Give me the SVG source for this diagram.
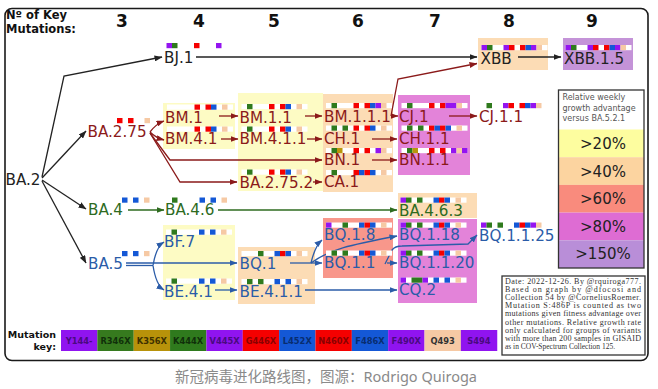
<svg xmlns="http://www.w3.org/2000/svg" width="658" height="389" viewBox="0 0 658 389">
<defs>
<style>
.n{font-family:"DejaVu Sans",Verdana,sans-serif;font-size:15.2px}
.k{fill:#222}.dr{fill:#8b1a1a}.gn{fill:#2e6b1f}.bu{fill:#2b5ca8}
.w{fill:#fff}.P{fill:#9414f0}.G{fill:#2f7a1d}.O{fill:#b8960a}.R{fill:#f50000}.B{fill:#1458d6}.T{fill:#f6c9a4}
.yb{fill:#fdfbc4}.tb{fill:#fcdcb5}.sb{fill:#f8978b}.mb{fill:#e383d9}.pb{fill:#c493d8}
.c{fill:none;stroke-width:1.3}
.ck{stroke:#222}.cr{stroke:#8b1a1a}.cg{stroke:#2e6b1f}.cb{stroke:#2b5ca8}
.hd{font-family:"DejaVu Sans",Verdana,sans-serif;font-weight:bold;fill:#111}
.note{font-family:"Liberation Serif","Times New Roman",serif;font-size:8.1px;fill:#333}
.kl{font-family:"DejaVu Sans",Verdana,sans-serif;font-weight:bold;font-size:8.3px;text-anchor:middle}
.lg{font-family:"DejaVu Sans",Verdana,sans-serif;font-size:15px;fill:#222;text-anchor:middle}
.lt{font-family:"DejaVu Sans",Verdana,sans-serif;font-size:8px;fill:#555}
</style>
<marker id="mk" viewBox="0 0 8 6" refX="7.5" refY="3" markerWidth="8" markerHeight="6" markerUnits="userSpaceOnUse" orient="auto"><path d="M0,0 L8,3 L0,6 z" fill="#222"/></marker>
<marker id="mr" viewBox="0 0 8 6" refX="7.5" refY="3" markerWidth="8" markerHeight="6" markerUnits="userSpaceOnUse" orient="auto"><path d="M0,0 L8,3 L0,6 z" fill="#8b1a1a"/></marker>
<marker id="mg" viewBox="0 0 8 6" refX="7.5" refY="3" markerWidth="8" markerHeight="6" markerUnits="userSpaceOnUse" orient="auto"><path d="M0,0 L8,3 L0,6 z" fill="#2e6b1f"/></marker>
<marker id="mb" viewBox="0 0 8 6" refX="7.5" refY="3" markerWidth="8" markerHeight="6" markerUnits="userSpaceOnUse" orient="auto"><path d="M0,0 L8,3 L0,6 z" fill="#2b5ca8"/></marker>
</defs>
<rect width="658" height="389" fill="#fff"/>
<rect id="frame" x="5" y="8.5" width="643" height="352" rx="7" fill="#fff" stroke="#1a1a1a" stroke-width="1.6"/>

<g id="header">
<text class="hd" font-size="11.5" x="6" y="19">Nº of Key</text>
<text class="hd" font-size="11.5" x="6" y="32.5">Mutations:</text>
<g font-size="17" text-anchor="middle">
<text class="hd" x="122" y="27">3</text>
<text class="hd" x="199" y="27">4</text>
<text class="hd" x="274" y="27">5</text>
<text class="hd" x="358" y="27">6</text>
<text class="hd" x="435" y="27">7</text>
<text class="hd" x="509" y="27">8</text>
<text class="hd" x="592" y="27">9</text>
</g>
</g>

<g id="boxes">
<rect class="yb" x="163" y="103" width="72" height="46"/>
<rect class="yb" x="238" y="93" width="85" height="98"/>
<rect class="tb" x="323" y="94" width="70" height="98"/>
<rect class="mb" x="398" y="95" width="72" height="80"/>
<rect class="tb" x="478" y="38" width="70" height="32"/>
<rect class="pb" x="563" y="38" width="70" height="32"/>
<rect class="tb" x="398" y="193" width="79" height="25"/>
<rect class="yb" x="163" y="225" width="72" height="75"/>
<rect class="tb" x="238" y="247" width="77" height="57"/>
<rect class="sb" x="323" y="218" width="70" height="60"/>
<rect class="mb" x="398" y="219" width="79" height="84"/>
</g>

<g id="connectors">
<path class="c ck" d="M42 177 L64 76 L162 57" marker-end="url(#mk)"/>
<path class="c ck" d="M42 178 L86 131" marker-end="url(#mk)"/>
<path class="c ck" d="M42 180 L86 209" marker-end="url(#mk)"/>
<path class="c ck" d="M42 181 L86 263" marker-end="url(#mk)"/>
<path class="c ck" d="M196 57 L477 57" marker-end="url(#mk)"/>
<path class="c ck" d="M518 57 L561 57" marker-end="url(#mk)"/>
<path class="c cr" d="M150 132 Q156 124 164 121" marker-end="url(#mr)"/>
<path class="c cr" d="M150 132 Q156 138 164 140" marker-end="url(#mr)"/>
<path class="c cr" d="M150 133 L170 160 L322 160" marker-end="url(#mr)"/>
<path class="c cr" d="M150 133 L180 182 L237 182" marker-end="url(#mr)"/>
<path class="c cr" d="M219 116 L238 116" marker-end="url(#mr)"/>
<path class="c cr" d="M221 139 L238 139" marker-end="url(#mr)"/>
<path class="c cr" d="M305 116 L322 116" marker-end="url(#mr)"/>
<path class="c cr" d="M307 139 L322 139" marker-end="url(#mr)"/>
<path class="c cr" d="M313 182 L322 182" marker-end="url(#mr)"/>
<path class="c cr" d="M391 116 L398 116" marker-end="url(#mr)"/>
<path class="c cr" d="M391 116 L398 79 L477 63.5" marker-end="url(#mr)"/>
<path class="c cr" d="M449 116 L477 116" marker-end="url(#mr)"/>
<path class="c cr" d="M372 139 L397 139" marker-end="url(#mr)"/>
<path class="c cr" d="M372 160 L397 160" marker-end="url(#mr)"/>
<path class="c cg" d="M128 210 L164 210" marker-end="url(#mg)"/>
<path class="c cg" d="M218 210 L397 210" marker-end="url(#mg)"/>
<path class="c cb" d="M126 263 L237 263" marker-end="url(#mb)"/>
<path class="c cb" d="M126 265.5 L153 265.5"/>
<path class="c cb" d="M153 265.5 Q156 247 164 242" marker-end="url(#mb)"/>
<path class="c cb" d="M153 265.5 Q156 285 164 290" marker-end="url(#mb)"/>
<path class="c cb" d="M215 290 L237 290" marker-end="url(#mb)"/>
<path class="c cb" d="M290 263 L311 263"/>
<path class="c cb" d="M311 263 Q315 246 322 240" marker-end="url(#mb)"/>
<path class="c cb" d="M311 263 L322 263" marker-end="url(#mb)"/>
<path class="c cb" d="M311 263 C330 249 350 245 397 236" marker-end="url(#mb)"/>
<path class="c cb" d="M387 263 L397 263" marker-end="url(#mb)"/>
<path class="c cb" d="M385 264 L392 250 Q395 246 402 246 L468 244 L477 235" marker-end="url(#mb)"/>
<path class="c cb" d="M305 290 L397 290" marker-end="url(#mb)"/>
</g>

<g id="BA2"><text class="n k" x="5.5" y="185">BA.2</text></g>

<g id="BJ1"><g transform="translate(166.5,43)"><rect class="P" x="0" width="5.5" height="5.2"/><rect class="G" x="5.5" width="5.5" height="5.2"/><rect class="R" x="27.5" width="5.5" height="5.2"/><rect class="P" x="49.5" width="5.5" height="5.2"/></g><text class="n k" x="164" y="63">BJ.1</text></g>

<g id="XBB"><g transform="translate(481.5,45)"><rect class="w" width="66" height="5.2"/><rect class="P" x="0" width="5.5" height="5.2"/><rect class="G" x="5.5" width="5.5" height="5.2"/><rect class="P" x="22" width="5.5" height="5.2"/><rect class="R" x="27.5" width="5.5" height="5.2"/><rect class="R" x="38.5" width="5.5" height="5.2"/><rect class="B" x="44" width="5.5" height="5.2"/><rect class="P" x="49.5" width="5.5" height="5.2"/><rect class="T" x="55" width="5.5" height="5.2"/></g><text class="n k" x="480.5" y="63.5">XBB</text></g>

<g id="XBB15"><g transform="translate(565.5,45)"><rect class="w" width="66" height="5.2"/><rect class="P" x="0" width="5.5" height="5.2"/><rect class="G" x="5.5" width="5.5" height="5.2"/><rect class="P" x="22" width="5.5" height="5.2"/><rect class="R" x="27.5" width="5.5" height="5.2"/><rect class="R" x="38.5" width="5.5" height="5.2"/><rect class="B" x="44" width="5.5" height="5.2"/><rect class="P" x="49.5" width="5.5" height="5.2"/><rect class="T" x="55" width="5.5" height="5.2"/></g><text class="n k" x="564" y="63.5">XBB.1.5</text></g>

<g id="BA275"><g transform="translate(89.5,118)"><rect class="R" x="27.5" width="5.5" height="5.2"/><rect class="R" x="38.5" width="5.5" height="5.2"/><rect class="T" x="55" width="5.5" height="5.2"/></g><text class="n dr" x="87.5" y="137">BA.2.75</text></g>

<g id="BM1"><g transform="translate(167,104.5)"><rect class="w" width="66" height="5.2"/><rect class="R" x="27.5" width="5.5" height="5.2"/><rect class="R" x="38.5" width="5.5" height="5.2"/><rect class="B" x="44" width="5.5" height="5.2"/><rect class="T" x="55" width="5.5" height="5.2"/></g><text class="n dr" x="165" y="122.5">BM.1</text></g>

<g id="BM41"><g transform="translate(167,126.5)"><rect class="w" width="66" height="5.2"/><rect class="R" x="27.5" width="5.5" height="5.2"/><rect class="R" x="38.5" width="5.5" height="5.2"/><rect class="B" x="44" width="5.5" height="5.2"/><rect class="T" x="55" width="5.5" height="5.2"/></g><text class="n dr" x="165" y="144">BM.4.1</text></g>

<g id="BM11"><g transform="translate(241.5,104)"><rect class="w" width="66" height="5.2"/><rect class="G" x="5.5" width="5.5" height="5.2"/><rect class="R" x="27.5" width="5.5" height="5.2"/><rect class="R" x="38.5" width="5.5" height="5.2"/><rect class="B" x="44" width="5.5" height="5.2"/><rect class="T" x="55" width="5.5" height="5.2"/></g><text class="n dr" x="239.5" y="122.5">BM.1.1</text></g>

<g id="BM411"><g transform="translate(241.5,126.5)"><rect class="w" width="66" height="5.2"/><rect class="G" x="5.5" width="5.5" height="5.2"/><rect class="R" x="27.5" width="5.5" height="5.2"/><rect class="R" x="38.5" width="5.5" height="5.2"/><rect class="B" x="44" width="5.5" height="5.2"/><rect class="T" x="55" width="5.5" height="5.2"/></g><text class="n dr" x="239.5" y="144">BM.4.1.1</text></g>

<g id="BA2752"><g transform="translate(241.5,169.5)"><rect class="w" width="66" height="5.2"/><rect class="G" x="5.5" width="5.5" height="5.2"/><rect class="R" x="27.5" width="5.5" height="5.2"/><rect class="R" x="38.5" width="5.5" height="5.2"/><rect class="B" x="44" width="5.5" height="5.2"/><rect class="T" x="55" width="5.5" height="5.2"/></g><text class="n dr" x="239.5" y="188">BA.2.75.2</text></g>

<g id="BM111"><g transform="translate(326,103)"><rect class="w" width="66" height="5.2"/><rect class="G" x="5.5" width="5.5" height="5.2"/><rect class="R" x="27.5" width="5.5" height="5.2"/><rect class="R" x="38.5" width="5.5" height="5.2"/><rect class="B" x="44" width="5.5" height="5.2"/><rect class="P" x="49.5" width="5.5" height="5.2"/><rect class="T" x="55" width="5.5" height="5.2"/></g><text class="n dr" x="324" y="121.5">BM.1.1.1</text></g>

<g id="CH1"><g transform="translate(326,125.5)"><rect class="w" width="66" height="5.2"/><rect class="G" x="5.5" width="5.5" height="5.2"/><rect class="G" x="16.5" width="5.5" height="5.2"/><rect class="R" x="27.5" width="5.5" height="5.2"/><rect class="R" x="38.5" width="5.5" height="5.2"/><rect class="B" x="44" width="5.5" height="5.2"/><rect class="T" x="55" width="5.5" height="5.2"/></g><text class="n dr" x="324" y="143.5">CH.1</text></g>

<g id="BN1"><g transform="translate(326,148)"><rect class="w" width="66" height="5.2"/><rect class="G" x="5.5" width="5.5" height="5.2"/><rect class="O" x="11" width="5.5" height="5.2"/><rect class="R" x="27.5" width="5.5" height="5.2"/><rect class="R" x="38.5" width="5.5" height="5.2"/><rect class="P" x="49.5" width="5.5" height="5.2"/><rect class="T" x="55" width="5.5" height="5.2"/></g><text class="n dr" x="324" y="165">BN.1</text></g>

<g id="CA1"><g transform="translate(326,170)"><rect class="w" width="66" height="5.2"/><rect class="G" x="5.5" width="5.5" height="5.2"/><rect class="R" x="27.5" width="5.5" height="5.2"/><rect class="B" x="33" width="5.5" height="5.2"/><rect class="R" x="38.5" width="5.5" height="5.2"/><rect class="B" x="44" width="5.5" height="5.2"/><rect class="T" x="55" width="5.5" height="5.2"/></g><text class="n dr" x="324" y="187">CA.1</text></g>

<g id="CJ1"><g transform="translate(401.5,103)"><rect class="w" width="66" height="5.2"/><rect class="G" x="5.5" width="5.5" height="5.2"/><rect class="R" x="27.5" width="5.5" height="5.2"/><rect class="R" x="38.5" width="5.5" height="5.2"/><rect class="P" x="44" width="5.5" height="5.2"/><rect class="P" x="49.5" width="5.5" height="5.2"/><rect class="T" x="55" width="5.5" height="5.2"/></g><text class="n dr" x="399" y="121.5">CJ.1</text></g>

<g id="CH11"><g transform="translate(401.5,125.5)"><rect class="w" width="66" height="5.2"/><rect class="G" x="5.5" width="5.5" height="5.2"/><rect class="G" x="16.5" width="5.5" height="5.2"/><rect class="R" x="27.5" width="5.5" height="5.2"/><rect class="B" x="33" width="5.5" height="5.2"/><rect class="R" x="38.5" width="5.5" height="5.2"/><rect class="B" x="44" width="5.5" height="5.2"/><rect class="T" x="55" width="5.5" height="5.2"/></g><text class="n dr" x="399" y="143.5">CH.1.1</text></g>

<g id="BN11"><g transform="translate(401.5,148)"><rect class="w" width="66" height="5.2"/><rect class="G" x="5.5" width="5.5" height="5.2"/><rect class="O" x="11" width="5.5" height="5.2"/><rect class="R" x="27.5" width="5.5" height="5.2"/><rect class="R" x="38.5" width="5.5" height="5.2"/><rect class="P" x="49.5" width="5.5" height="5.2"/><rect class="T" x="55" width="5.5" height="5.2"/><rect class="P" x="60.5" width="5.5" height="5.2"/></g><text class="n dr" x="399" y="165">BN.1.1</text></g>

<g id="CJ11"><g transform="translate(481,103)"><rect class="G" x="5.5" width="5.5" height="5.2"/><rect class="P" x="22" width="5.5" height="5.2"/><rect class="R" x="27.5" width="5.5" height="5.2"/><rect class="R" x="38.5" width="5.5" height="5.2"/><rect class="B" x="44" width="5.5" height="5.2"/><rect class="P" x="49.5" width="5.5" height="5.2"/><rect class="T" x="55" width="5.5" height="5.2"/></g><text class="n dr" x="479" y="121.5">CJ.1.1</text></g>

<g id="BA4"><g transform="translate(89,197.5)"><rect class="B" x="33" width="5.5" height="5.2"/><rect class="B" x="44" width="5.5" height="5.2"/><rect class="T" x="55" width="5.5" height="5.2"/></g><text class="n gn" x="88" y="215">BA.4</text></g>

<g id="BA46"><g transform="translate(166.5,197.5)"><rect class="G" x="5.5" width="5.5" height="5.2"/><rect class="B" x="33" width="5.5" height="5.2"/><rect class="B" x="44" width="5.5" height="5.2"/><rect class="T" x="55" width="5.5" height="5.2"/></g><text class="n gn" x="165" y="215">BA.4.6</text></g>

<g id="BA463"><g transform="translate(400.5,197.5)"><rect class="w" width="66" height="5.2"/><rect class="P" x="0" width="5.5" height="5.2"/><rect class="G" x="5.5" width="5.5" height="5.2"/><rect class="G" x="16.5" width="5.5" height="5.2"/><rect class="B" x="33" width="5.5" height="5.2"/><rect class="R" x="38.5" width="5.5" height="5.2"/><rect class="B" x="44" width="5.5" height="5.2"/><rect class="T" x="55" width="5.5" height="5.2"/></g><text class="n gn" x="399" y="216">BA.4.6.3</text></g>

<g id="BA5"><g transform="translate(89,251)"><rect class="B" x="33" width="5.5" height="5.2"/><rect class="B" x="44" width="5.5" height="5.2"/><rect class="T" x="55" width="5.5" height="5.2"/></g><text class="n bu" x="88" y="269">BA.5</text></g>

<g id="BF7"><g transform="translate(166,229.5)"><rect class="w" width="66" height="5.2"/><rect class="G" x="5.5" width="5.5" height="5.2"/><rect class="B" x="33" width="5.5" height="5.2"/><rect class="B" x="44" width="5.5" height="5.2"/><rect class="T" x="55" width="5.5" height="5.2"/></g><text class="n bu" x="164" y="247">BF.7</text></g>

<g id="BE41"><g transform="translate(166,278.5)"><rect class="w" width="66" height="5.2"/><rect class="G" x="5.5" width="5.5" height="5.2"/><rect class="B" x="33" width="5.5" height="5.2"/><rect class="B" x="44" width="5.5" height="5.2"/><rect class="T" x="55" width="5.5" height="5.2"/></g><text class="n bu" x="164" y="296.5">BE.4.1</text></g>

<g id="BQ1"><g transform="translate(241.5,251)"><rect class="w" width="66" height="5.2"/><rect class="G" x="16.5" width="5.5" height="5.2"/><rect class="B" x="33" width="5.5" height="5.2"/><rect class="R" x="38.5" width="5.5" height="5.2"/><rect class="B" x="44" width="5.5" height="5.2"/><rect class="T" x="55" width="5.5" height="5.2"/></g><text class="n bu" x="239.5" y="268.5">BQ.1</text></g>

<g id="BE411"><g transform="translate(241.5,279)"><rect class="w" width="66" height="5.2"/><rect class="G" x="5.5" width="5.5" height="5.2"/><rect class="G" x="16.5" width="5.5" height="5.2"/><rect class="B" x="33" width="5.5" height="5.2"/><rect class="B" x="44" width="5.5" height="5.2"/><rect class="T" x="55" width="5.5" height="5.2"/></g><text class="n bu" x="239.5" y="296.5">BE.4.1.1</text></g>

<g id="BQ18"><g transform="translate(326,222.5)"><rect class="w" width="66" height="5.2"/><rect class="P" x="0" width="5.5" height="5.2"/><rect class="G" x="16.5" width="5.5" height="5.2"/><rect class="B" x="33" width="5.5" height="5.2"/><rect class="R" x="38.5" width="5.5" height="5.2"/><rect class="B" x="44" width="5.5" height="5.2"/><rect class="T" x="55" width="5.5" height="5.2"/></g><text class="n bu" x="324" y="240">BQ.1.8</text></g>

<g id="BQ11"><g transform="translate(326,250.5)"><rect class="w" width="66" height="5.2"/><rect class="G" x="5.5" width="5.5" height="5.2"/><rect class="G" x="16.5" width="5.5" height="5.2"/><rect class="B" x="33" width="5.5" height="5.2"/><rect class="R" x="38.5" width="5.5" height="5.2"/><rect class="B" x="44" width="5.5" height="5.2"/><rect class="T" x="55" width="5.5" height="5.2"/></g><text class="n bu" x="324" y="267.5">BQ.1.1</text></g>

<g id="BQ118"><g transform="translate(400.5,222.5)"><rect class="w" width="66" height="5.2"/><rect class="P" x="0" width="5.5" height="5.2"/><rect class="G" x="5.5" width="5.5" height="5.2"/><rect class="G" x="16.5" width="5.5" height="5.2"/><rect class="B" x="33" width="5.5" height="5.2"/><rect class="R" x="38.5" width="5.5" height="5.2"/><rect class="B" x="44" width="5.5" height="5.2"/><rect class="T" x="55" width="5.5" height="5.2"/></g><text class="n bu" x="399" y="240">BQ.1.18</text></g>

<g id="BQ1120"><g transform="translate(400.5,250.5)"><rect class="w" width="66" height="5.2"/><rect class="P" x="0" width="5.5" height="5.2"/><rect class="G" x="5.5" width="5.5" height="5.2"/><rect class="G" x="16.5" width="5.5" height="5.2"/><rect class="B" x="33" width="5.5" height="5.2"/><rect class="R" x="38.5" width="5.5" height="5.2"/><rect class="B" x="44" width="5.5" height="5.2"/><rect class="T" x="55" width="5.5" height="5.2"/></g><text class="n bu" x="399" y="267.5">BQ.1.1.20</text></g>

<g id="CQ2"><g transform="translate(400.5,277.5)"><rect class="w" width="66" height="5.2"/><rect class="P" x="0" width="5.5" height="5.2"/><rect class="G" x="11" width="5.5" height="5.2"/><rect class="G" x="16.5" width="5.5" height="5.2"/><rect class="P" x="22" width="5.5" height="5.2"/><rect class="B" x="33" width="5.5" height="5.2"/><rect class="B" x="44" width="5.5" height="5.2"/><rect class="T" x="55" width="5.5" height="5.2"/></g><text class="n bu" x="399" y="294.5">CQ.2</text></g>

<g id="BQ1125"><g transform="translate(481,222.5)"><rect class="P" x="0" width="5.5" height="5.2"/><rect class="G" x="5.5" width="5.5" height="5.2"/><rect class="G" x="16.5" width="5.5" height="5.2"/><rect class="B" x="33" width="5.5" height="5.2"/><rect class="R" x="38.5" width="5.5" height="5.2"/><rect class="B" x="44" width="5.5" height="5.2"/><rect class="P" x="49.5" width="5.5" height="5.2"/><rect class="T" x="55" width="5.5" height="5.2"/></g><text class="n bu" x="479" y="240.5">BQ.1.1.25</text></g>

<g id="legend">
<rect x="558.5" y="90" width="85.5" height="178" fill="#fff"/>
<rect x="558.5" y="129.5" width="85.5" height="27.7" fill="#fdfd9f"/>
<rect x="558.5" y="157.2" width="85.5" height="27.7" fill="#fcd4a0"/>
<rect x="558.5" y="184.9" width="85.5" height="27.7" fill="#f98b7d"/>
<rect x="558.5" y="212.6" width="85.5" height="27.7" fill="#de6cd3"/>
<rect x="558.5" y="240.3" width="85.5" height="27.7" fill="#b98ed8"/>
<rect x="558.5" y="90" width="85.5" height="178" fill="none" stroke="#333" stroke-width="1.3"/>
<text class="lt" x="562.5" y="100">Relative weekly</text>
<text class="lt" x="562.5" y="110.5">growth advantage</text>
<text class="lt" x="562.5" y="121">versus BA.5.2.1</text>
<text class="lg" x="603" y="148.5">&gt;20%</text>
<text class="lg" x="603" y="176.5">&gt;40%</text>
<text class="lg" x="603" y="204">&gt;60%</text>
<text class="lg" x="603" y="231.5">&gt;80%</text>
<text class="lg" x="603" y="259">&gt;150%</text>
</g>

<g id="note">
<rect x="502" y="276" width="143" height="79" fill="#fff" stroke="#333" stroke-width="1.3"/>
<text class="note" x="505" y="284" textLength="136" lengthAdjust="spacing">Date: 2022-12-26. By @rquiroga777.</text>
<text class="note" x="505" y="292.1" textLength="136" lengthAdjust="spacing">Based on graph by @dfocosi and</text>
<text class="note" x="505" y="300.2" textLength="136" lengthAdjust="spacing">Collection 54 by @CorneliusRoemer.</text>
<text class="note" x="505" y="308.3" textLength="136" lengthAdjust="spacing">Mutation S:486P is counted as two</text>
<text class="note" x="505" y="316.4" textLength="136" lengthAdjust="spacing">mutations given fitness advantage over</text>
<text class="note" x="505" y="324.5" textLength="136" lengthAdjust="spacing">other mutations. Relative growth rate</text>
<text class="note" x="505" y="332.6" textLength="136" lengthAdjust="spacing">only calculated for groups of variants</text>
<text class="note" x="505" y="340.7" textLength="136" lengthAdjust="spacing">with more than 200 samples in GISAID</text>
<text class="note" x="505" y="348.8" textLength="110" lengthAdjust="spacingAndGlyphs">as in COV-Spectrum Collection 125.</text>
</g>

<g id="mutation-key">
<text class="hd" font-size="9.5" x="56" y="338" text-anchor="end">Mutation</text>
<text class="hd" font-size="9.5" x="56" y="350" text-anchor="end">key:</text>
<rect x="61" y="330" width="36.4" height="21" fill="#9014f0"/>
<rect x="97.35" y="330" width="36.4" height="21" fill="#367a1e"/>
<rect x="133.7" y="330" width="36.4" height="21" fill="#b8920a"/>
<rect x="170.05" y="330" width="36.4" height="21" fill="#2f7a1d"/>
<rect x="206.4" y="330" width="36.4" height="21" fill="#9014f0"/>
<rect x="242.75" y="330" width="36.4" height="21" fill="#f50000"/>
<rect x="279.1" y="330" width="36.4" height="21" fill="#1458d6"/>
<rect x="315.45" y="330" width="36.4" height="21" fill="#f50000"/>
<rect x="351.8" y="330" width="36.4" height="21" fill="#1458d6"/>
<rect x="388.15" y="330" width="36.4" height="21" fill="#9014f0"/>
<rect x="424.5" y="330" width="36.4" height="21" fill="#f6c9a4"/>
<rect x="460.85" y="330" width="36.4" height="21" fill="#9014f0"/>
<text class="kl" x="79.2" y="343.5" fill="#4a0a80">Y144-</text>
<text class="kl" x="115.5" y="343.5" fill="#10300a">R346X</text>
<text class="kl" x="151.9" y="343.5" fill="#3e3000">K356X</text>
<text class="kl" x="188.2" y="343.5" fill="#10300a">K444X</text>
<text class="kl" x="224.6" y="343.5" fill="#4a0a80">V445X</text>
<text class="kl" x="260.9" y="343.5" fill="#8a0000">G446X</text>
<text class="kl" x="297.3" y="343.5" fill="#082d70">L452X</text>
<text class="kl" x="333.6" y="343.5" fill="#8a0000">N460X</text>
<text class="kl" x="370" y="343.5" fill="#082d70">F486X</text>
<text class="kl" x="406.3" y="343.5" fill="#4a0a80">F490X</text>
<text class="kl" x="442.7" y="343.5" fill="#333">Q493</text>
<text class="kl" x="479" y="343.5" fill="#4a0a80">S494</text>
</g>

<text x="326" y="382" text-anchor="middle" font-family="'Noto Sans','Noto Sans CJK SC',sans-serif" font-size="14.5" fill="#8a8a8a">新冠病毒进化路线图，图源：Rodrigo Quiroga</text>
</svg>
